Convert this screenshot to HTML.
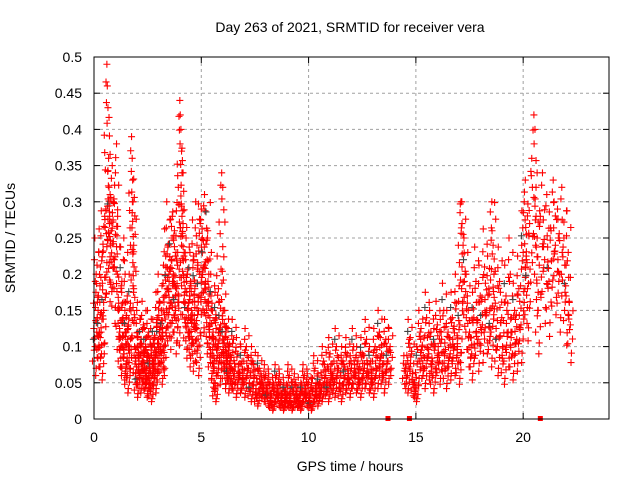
<!DOCTYPE html>
<html><head><meta charset="utf-8">
<style>
body{margin:0;background:#fff;}
svg{display:block;font-family:"Liberation Sans",sans-serif;}
</style></head>
<body>
<svg id="chart" width="640" height="480" viewBox="0 0 640 480">
<rect width="640" height="480" fill="#fff"/>
<text x="350" y="32" font-size="14" text-anchor="middle">Day 263 of 2021, SRMTID for receiver vera</text>
<g id="grid"></g>
<g id="ticks"></g>
<g id="points"></g>
<rect x="94" y="57" width="515" height="362" fill="none" stroke="#000" stroke-width="1"/>
<text x="350" y="471" font-size="14" text-anchor="middle">GPS time / hours</text>
<text x="15" y="238" font-size="14" text-anchor="middle" transform="rotate(-90 15 238)">SRMTID / TECUs</text>
</svg>
<script>
const xTicks=[0,5,10,15,20];
const yTicks=[0,0.05,0.1,0.15,0.2,0.25,0.3,0.35,0.4,0.45,0.5];
const yTickLabels=["0","0.05","0.1","0.15","0.2","0.25","0.3","0.35","0.4","0.45","0.5"];
const hours=[0.05,0.1,0.15,0.2,0.25,0.3,0.35,0.4,0.45,0.5,0.55,0.6,0.62,0.65,0.68,0.7,0.72,0.75,0.8,0.85,0.9,0.95,1.0,1.05,1.1,1.15,1.2,1.25,1.3,1.35,1.4,1.45,1.5,1.55,1.6,1.65,1.7,1.75,1.78,1.8,1.82,1.85,1.9,1.95,2.0,2.05,2.1,2.15,2.2,2.25,2.3,2.35,2.4,2.45,2.5,2.55,2.6,2.65,2.7,2.75,2.8,2.85,2.9,2.95,3.0,3.05,3.1,3.15,3.2,3.25,3.3,3.35,3.4,3.45,3.5,3.55,3.6,3.65,3.7,3.75,3.8,3.85,3.9,3.95,4.0,4.02,4.05,4.08,4.1,4.15,4.2,4.25,4.3,4.35,4.4,4.45,4.5,4.55,4.6,4.65,4.7,4.75,4.8,4.85,4.9,4.95,5.0,5.05,5.1,5.15,5.2,5.25,5.3,5.35,5.4,5.45,5.5,5.55,5.6,5.65,5.7,5.75,5.8,5.85,5.9,5.95,6.0,6.02,6.05,6.1,6.15,6.2,6.25,6.3,6.35,6.4,6.5,6.6,6.7,6.8,6.9,7.0,7.1,7.2,7.3,7.4,7.5,7.6,7.7,7.8,7.9,8.0,8.1,8.2,8.3,8.4,8.5,8.6,8.7,8.8,8.9,9.0,9.1,9.2,9.3,9.4,9.5,9.6,9.7,9.8,9.9,10.0,10.1,10.2,10.3,10.4,10.5,10.6,10.7,10.8,10.9,11.0,11.1,11.2,11.3,11.4,11.5,11.6,11.7,11.8,11.9,12.0,12.1,12.2,12.3,12.4,12.5,12.6,12.7,12.8,12.9,13.0,13.1,13.2,13.3,13.4,13.5,13.6,13.7,13.8,14.5,14.6,14.7,14.8,14.9,15.0,15.1,15.2,15.3,15.4,15.5,15.6,15.7,15.8,15.9,16.0,16.1,16.2,16.3,16.4,16.5,16.6,16.7,16.8,16.9,17.0,17.05,17.1,17.15,17.2,17.3,17.4,17.5,17.6,17.7,17.8,17.9,18.0,18.1,18.2,18.3,18.4,18.5,18.55,18.6,18.7,18.8,18.9,19.0,19.1,19.2,19.3,19.4,19.5,19.6,19.7,19.8,19.9,20.0,20.05,20.1,20.15,20.2,20.3,20.4,20.5,20.55,20.6,20.65,20.7,20.8,20.9,21.0,21.1,21.2,21.3,21.4,21.5,21.6,21.7,21.8,21.9,22.0,22.1,22.2];
const srmtid=[0.1,0.2,0.14,0.17,0.12,0.21,0.09,0.23,0.15,0.28,0.29,0.49,0.46,0.43,0.36,0.32,0.27,0.31,0.26,0.35,0.3,0.22,0.34,0.38,0.28,0.16,0.12,0.1,0.19,0.14,0.09,0.2,0.12,0.06,0.13,0.1,0.16,0.39,0.36,0.33,0.3,0.24,0.14,0.08,0.05,0.12,0.09,0.06,0.11,0.08,0.13,0.07,0.1,0.05,0.09,0.12,0.07,0.04,0.1,0.08,0.11,0.06,0.09,0.14,0.11,0.16,0.13,0.08,0.12,0.1,0.17,0.21,0.18,0.24,0.19,0.16,0.22,0.28,0.2,0.26,0.15,0.18,0.23,0.17,0.44,0.42,0.4,0.37,0.34,0.27,0.23,0.18,0.14,0.2,0.16,0.12,0.19,0.15,0.11,0.22,0.18,0.13,0.24,0.1,0.17,0.27,0.29,0.25,0.21,0.31,0.19,0.15,0.26,0.2,0.13,0.09,0.16,0.12,0.07,0.04,0.14,0.1,0.18,0.08,0.13,0.34,0.32,0.15,0.11,0.07,0.12,0.09,0.06,0.1,0.08,0.07,0.11,0.05,0.09,0.06,0.08,0.05,0.1,0.07,0.04,0.08,0.06,0.03,0.07,0.05,0.04,0.06,0.03,0.05,0.02,0.04,0.06,0.03,0.05,0.02,0.04,0.03,0.06,0.02,0.04,0.05,0.03,0.02,0.04,0.06,0.03,0.05,0.02,0.04,0.07,0.03,0.05,0.04,0.08,0.06,0.04,0.09,0.06,0.05,0.1,0.07,0.04,0.08,0.06,0.09,0.05,0.07,0.1,0.06,0.08,0.05,0.09,0.07,0.11,0.06,0.08,0.05,0.1,0.07,0.12,0.09,0.06,0.11,0.08,0.1,0.07,0.06,0.11,0.09,0.05,0.04,0.08,0.12,0.1,0.07,0.14,0.09,0.12,0.06,0.1,0.13,0.08,0.11,0.15,0.07,0.12,0.09,0.14,0.1,0.16,0.08,0.13,0.3,0.27,0.24,0.2,0.16,0.12,0.09,0.14,0.19,0.11,0.17,0.13,0.21,0.15,0.18,0.12,0.26,0.24,0.16,0.1,0.19,0.14,0.08,0.17,0.12,0.2,0.09,0.15,0.11,0.18,0.13,0.23,0.3,0.33,0.22,0.18,0.27,0.36,0.42,0.4,0.32,0.25,0.15,0.28,0.34,0.22,0.31,0.19,0.26,0.33,0.24,0.29,0.2,0.32,0.25,0.17,0.23,0.13];
const bottomMarks=[13.7,14.7,20.8];
const ns="http://www.w3.org/2000/svg";
const X=h=>94+h*515/24;
const Y=v=>419-v*362/0.5;
const g=document.getElementById('grid'),t=document.getElementById('ticks'),p=document.getElementById('points');
function mk(tag,attrs,parent){const e=document.createElementNS(ns,tag);for(const k in attrs)e.setAttribute(k,attrs[k]);parent.appendChild(e);return e;}
xTicks.forEach(v=>{
 const x=X(v);
 if(v>0){const l=mk('line',{x1:x,y1:57,x2:x,y2:419,stroke:'#a0a0a0','stroke-dasharray':'3,3'},g);
 
 }
 mk('line',{x1:x,y1:419,x2:x,y2:413,stroke:'#000'},t);
 mk('line',{x1:x,y1:57,x2:x,y2:63,stroke:'#000'},t);
 const tx=mk('text',{x:x,y:442,'font-size':14,'text-anchor':'middle'},t);tx.textContent=v;
 
 
});
yTicks.forEach((v,i)=>{
 const y=Y(v);
 if(v>0&&v<0.5){const l=mk('line',{x1:94,y1:y,x2:609,y2:y,stroke:'#a0a0a0','stroke-dasharray':'3,3'},g);
 
 }
 mk('line',{x1:94,y1:y,x2:100,y2:y,stroke:'#000'},t);
 mk('line',{x1:609,y1:y,x2:603,y2:y,stroke:'#000'},t);
 const tx=mk('text',{x:82,y:y+5,'font-size':14,'text-anchor':'end'},t);tx.textContent=yTickLabels[i];
 
 
});
const offs=[[0,1],[0.1,0.85],[-0.08,1.1],[0.05,0.7],[-0.04,0.95],[0.12,1.15],[-0.12,0.8],[0.03,0.6],[-0.06,1.25]];
hours.forEach((h,i)=>{
 offs.forEach((o,j)=>{
  const v=Math.max(0.012,srmtid[i]*o[1]);
  if(j>0&&v>0.3&&o[1]>1)return;
  const x=X(h+o[0]),y=Y(v);
  const c=(j==2&&i%4==0)?'#444':'#f00';
  const e=mk('path',{d:`M${x-3.5},${y}h7M${x},${y-3.5}v7`,stroke:c,'stroke-width':1.1},p);
  
  
 });
});
bottomMarks.forEach(h=>{
 const e=mk('rect',{x:X(h)-2.5,y:416,width:5,height:5,fill:'#f00'},p);
 
 
});
</script>
</body></html>
